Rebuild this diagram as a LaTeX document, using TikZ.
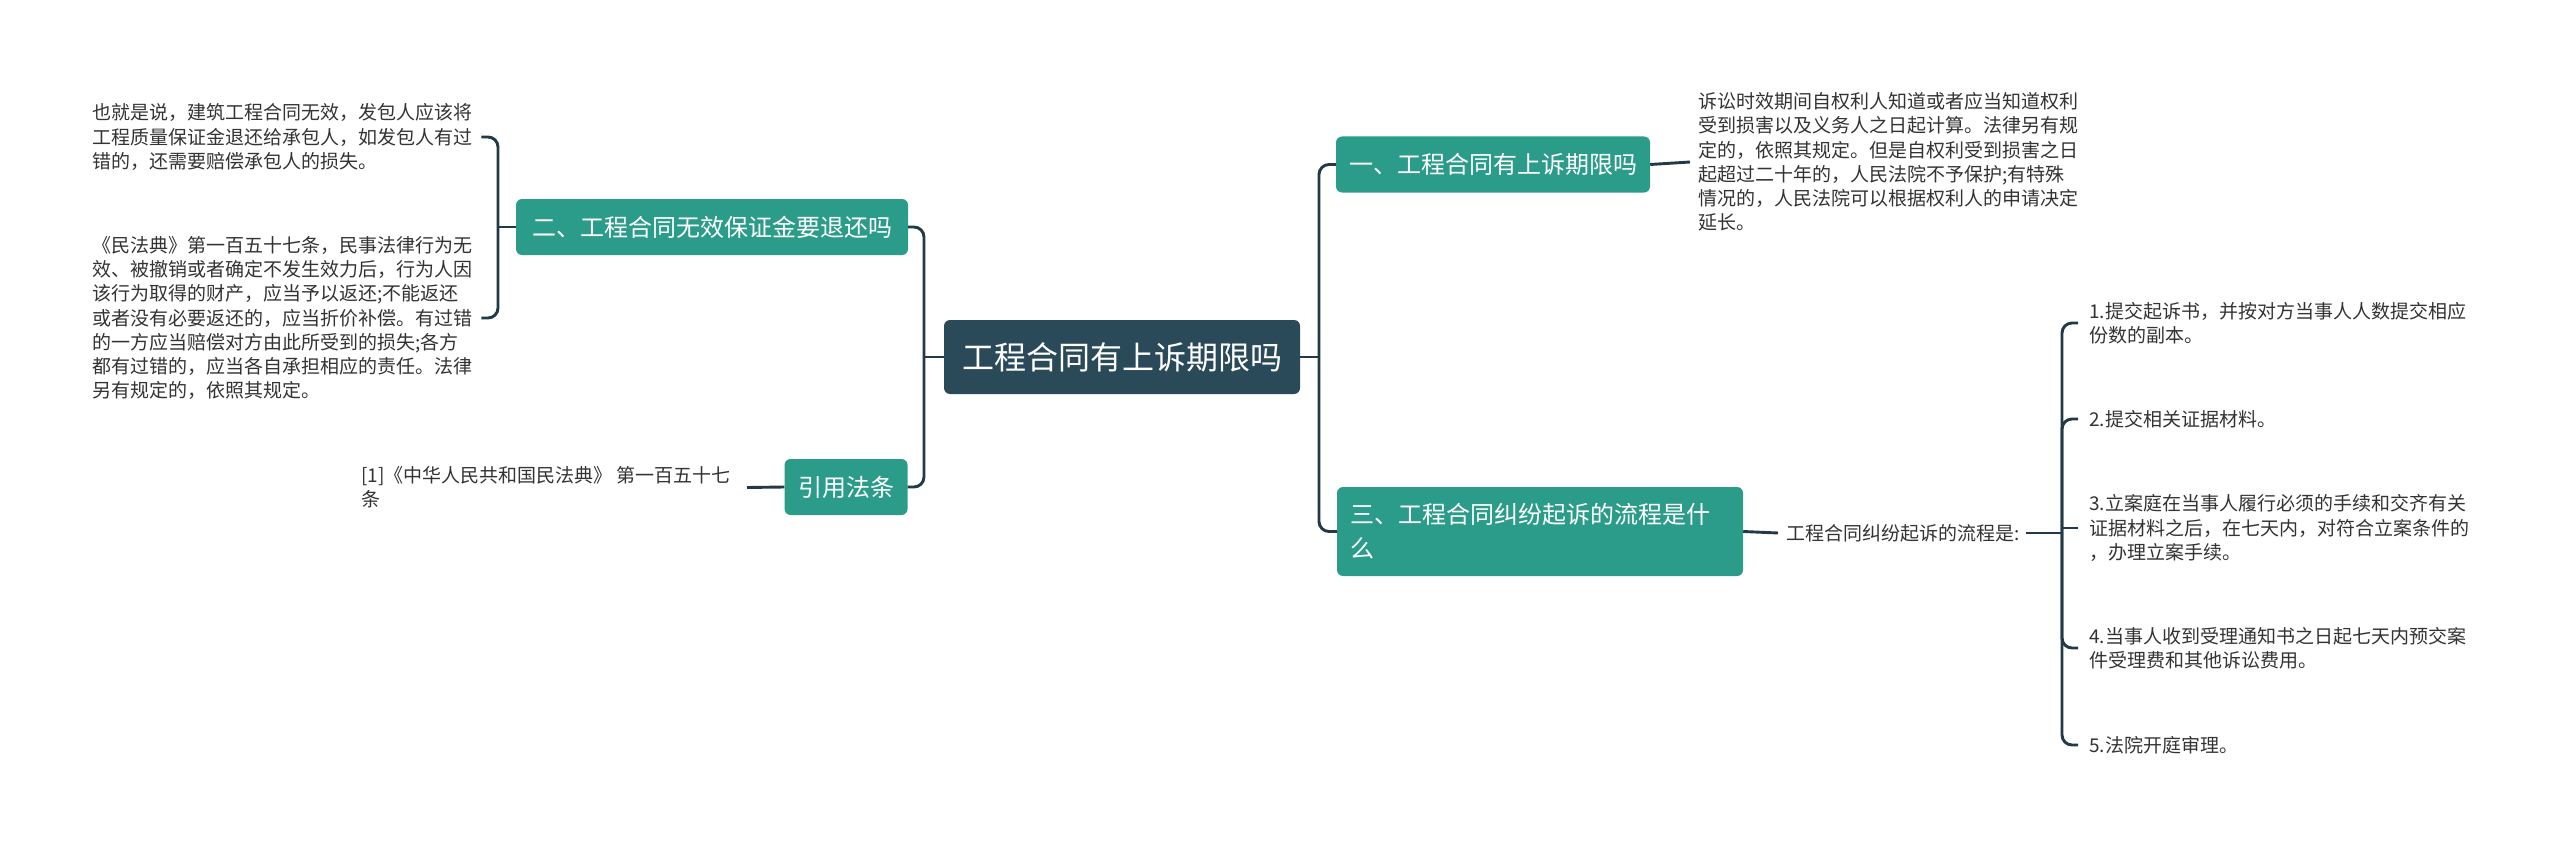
\documentclass[tikz,border=0pt]{standalone}
\usepackage{fontspec}
\setmainfont{Noto Sans CJK SC}
\definecolor{rootC}{HTML}{2A4A5A}
\definecolor{tealC}{HTML}{2C9C8A}
\definecolor{lineC}{HTML}{223A47}
\definecolor{txtC}{HTML}{333333}
\begin{document}
\begin{tikzpicture}[x=1pt,y=-1pt,
  conn/.style={draw=lineC, line width=2.9pt, rounded corners=10pt},
  rootbox/.style={fill=rootC, rounded corners=6pt, text=white, font=\fontsize{32}{38}\selectfont, minimum height=74pt, inner xsep=18pt, inner ysep=0pt},
  mainbox/.style={fill=tealC, rounded corners=6pt, text=white, font=\fontsize{24}{34}\selectfont, minimum height=56pt, inner xsep=13pt, inner ysep=0pt},
  leaf/.style={text=txtC, font=\fontsize{19}{24.3}\selectfont, align=left, inner sep=0pt},
]
\useasboundingbox (0,0) rectangle (2560,848);
\fill[white] (0,0) rectangle (2560,848);

% nodes
\node[rootbox] (root) at (1122,357) {工程合同有上诉期限吗};
\node[mainbox, minimum width=312pt] (b1) at (1493,164.5) {一、工程合同有上诉期限吗};
\node[mainbox, minimum width=392pt] (b2) at (712,227) {二、工程合同无效保证金要退还吗};
\node[mainbox, minimum width=406pt, minimum height=89pt, text width=380pt, align=left] (b3) at (1540,531.5) {三、工程合同纠纷起诉的流程是什\\么};
\node[mainbox, minimum width=123pt] (b4) at (846,487) {引用法条};

\node[leaf, anchor=west] (t1) at (1698,162) {诉讼时效期间自权利人知道或者应当知道权利\\受到损害以及义务人之日起计算。法律另有规\\定的，依照其规定。但是自权利受到损害之日\\起超过二十年的，人民法院不予保护;有特殊\\情况的，人民法院可以根据权利人的申请决定\\延长。};
\node[leaf, anchor=west] (t2a) at (92,137) {也就是说，建筑工程合同无效，发包人应该将\\工程质量保证金退还给承包人，如发包人有过\\错的，还需要赔偿承包人的损失。};
\node[leaf, anchor=west] (t2b) at (92,318) {《民法典》第一百五十七条，民事法律行为无\\效、被撤销或者确定不发生效力后，行为人因\\该行为取得的财产，应当予以返还;不能返还\\或者没有必要返还的，应当折价补偿。有过错\\的一方应当赔偿对方由此所受到的损失;各方\\都有过错的，应当各自承担相应的责任。法律\\另有规定的，依照其规定。};
\node[leaf, anchor=west] (t4) at (361,487.5) {[1]《中华人民共和国民法典》 第一百五十七\\条};
\node[leaf, anchor=west] (t3) at (1786,533) {工程合同纠纷起诉的流程是:};

\node[leaf, anchor=west] (s1) at (2089,323) {1.提交起诉书，并按对方当事人人数提交相应\\份数的副本。};
\node[leaf, anchor=west] (s2) at (2089,419) {2.提交相关证据材料。};
\node[leaf, anchor=west] (s3) at (2089,528) {3.立案庭在当事人履行必须的手续和交齐有关\\证据材料之后，在七天内，对符合立案条件的\\，办理立案手续。};
\node[leaf, anchor=west] (s4) at (2089,648) {4.当事人收到受理通知书之日起七天内预交案\\件受理费和其他诉讼费用。};
\node[leaf, anchor=west] (s5) at (2089,745) {5.法院开庭审理。};

% junctions
\coordinate (jL) at (924,357);
\coordinate (jR) at (1319,357);
\coordinate (k2) at (498,227);
\coordinate (k3) at (2062,533);

% connectors
\draw[conn] (root.west) -- (jL);
\draw[conn] (jL) |- (b2.east);
\draw[conn] (jL) |- (b4.east);
\draw[conn] (root.east) -- (jR);
\draw[conn] (jR) |- (b1.west);
\draw[conn] (jR) |- (b3.west);

\draw[conn] (b2.west) -- (k2);
\draw[conn] (k2) |- ([xshift=9pt]t2a.east);
\draw[conn] (k2) |- ([xshift=9pt]t2b.east);

\draw[conn] (b4.west) -- ([xshift=16pt]t4.east);
\draw[conn] (b1.east) -- ([xshift=-8pt]t1.west);
\draw[conn] (b3.east) -- ([xshift=-8pt]t3.west);
\draw[conn] ([xshift=6pt]t3.east) -- (k3);

\draw[conn] (k3) |- ([xshift=-11pt]s1.west);
\draw[conn] (k3) |- ([xshift=-11pt]s2.west);
\draw[conn] (k3 |- s3.west) -- ([xshift=-11pt]s3.west);
\draw[conn] (k3) |- ([xshift=-11pt]s4.west);
\draw[conn] (k3) |- ([xshift=-11pt]s5.west);
\end{tikzpicture}
\end{document}
